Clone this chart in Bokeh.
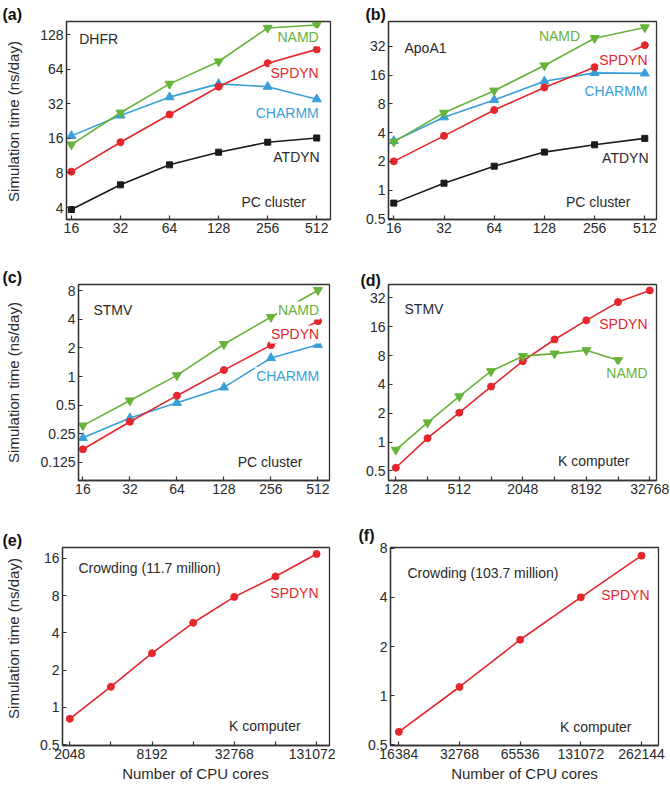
import math
from bokeh.plotting import figure
from bokeh.models import Range1d, FixedTicker, CustomJSTickFormatter, Label
from bokeh.layouts import column, row
from bokeh.embed import file_html
from bokeh.resources import INLINE

# ---------------- data ----------------
cores_pc = [16, 32, 64, 128, 256, 512]
dhfr_namd = [14.1, 26.7, 47.6, 74.5, 146, 155]
dhfr_spdyn = [8.2, 14.8, 25.8, 45, 72, 95]
dhfr_charmm = [16.8, 25.3, 36.5, 47.6, 45, 35]
dhfr_atdyn = [3.84, 6.3, 9.4, 12.1, 14.8, 16.1]

apoa1_namd = [3.2, 6.45, 11.0, 20.2, 39, 50.6]
apoa1_spdyn = [2.0, 3.7, 6.9, 11.9, 19.4, 33]
apoa1_charmm = [3.27, 5.8, 8.8, 13.8, 16.9, 16.7]
apoa1_atdyn = [0.73, 1.18, 1.78, 2.5, 2.98, 3.48]

stmv_pc_namd = [0.305, 0.56, 1.03, 2.19, 4.23, 8.1]
stmv_pc_spdyn = [0.172, 0.335, 0.63, 1.17, 2.14, 3.82]
stmv_pc_charmm = [0.227, 0.366, 0.53, 0.77, 1.57, 2.16]

cores_k_stmv = [128, 256, 512, 1024, 2048, 4096, 8192, 16384, 32768]
stmv_k_spdyn = [0.54, 1.1, 2.03, 3.8, 7.0, 11.8, 18.7, 29, 38.4]
cores_k_stmv_namd = [128, 256, 512, 1024, 2048, 4096, 8192, 16384]
stmv_k_namd = [0.83, 1.6, 3.0, 5.5, 7.9, 8.4, 9.1, 7.15]

cores_crowd1 = [2048, 4096, 8192, 16384, 32768, 65536, 131072]
crowd1_spdyn = [0.81, 1.47, 2.74, 4.82, 7.8, 11.4, 17.3]
cores_crowd2 = [16384, 32768, 65536, 131072, 262144]
crowd2_spdyn = [0.6, 1.13, 2.2, 4.0, 7.2]

ticks_pc = [16, 32, 64, 128, 256, 512]
ticks_k_stmv = [128, 512, 2048, 8192, 32768]
minor_k_stmv = [256, 1024, 4096, 16384]
ticks_crowd1 = [2048, 8192, 32768, 131072]
minor_crowd1 = [4096, 16384, 65536]
ticks_crowd2 = [16384, 32768, 65536, 131072, 262144]

yt_a = [4, 8, 16, 32, 64, 128]
yt_b = [0.5, 1, 2, 4, 8, 16, 32]
yt_c = [0.125, 0.25, 0.5, 1, 2, 4, 8]
yt_d = [0.5, 1, 2, 4, 8, 16, 32]
yt_e = [0.5, 1, 2, 4, 8, 16]
yt_f = [0.5, 1, 2, 4, 8]

# ---------------- styles ----------------
GREEN = "#66b33a"
RED = "#e5262b"
BLUE = "#3a9fd8"
BLACK = "#1a1a1a"
TXT = "#2a2a2a"
FONT = "Liberation Sans"


class Panel:
    def __init__(self, fig_box, frame_box, xanch, yanch, xticks, yticks, xminor=None):
        fx, fy, fw, fh = fig_box
        l, t, r, b = frame_box
        self.fx, self.fy = fx, fy
        (xv1, xp1), (xv2, xp2) = xanch
        (yv1, yp1), (yv2, yp2) = yanch
        self.xs = (math.log2(xv2) - math.log2(xv1)) / (xp2 - xp1)
        self.xo = math.log2(xv1) - xp1 * self.xs
        self.ys = (math.log2(yv2) - math.log2(yv1)) / (yp2 - yp1)
        self.yo = math.log2(yv1) - yp1 * self.ys
        xr = Range1d(2 ** (self.xo + l * self.xs), 2 ** (self.xo + r * self.xs))
        yr = Range1d(2 ** (self.yo + b * self.ys), 2 ** (self.yo + t * self.ys))
        p = figure(width=fw, height=fh, x_axis_type="log", y_axis_type="log",
                   x_range=xr, y_range=yr,
                   min_border_left=l - fx, min_border_right=fx + fw - r,
                   min_border_top=t - fy, min_border_bottom=fy + fh - b,
                   output_backend="svg", toolbar_location=None)
        p.grid.visible = False
        p.outline_line_color = "#333333"
        p.outline_line_width = 1.3
        p.background_fill_color = "white"
        p.border_fill_color = "white"
        for ax, tk, mn in ((p.xaxis, xticks, xminor), (p.yaxis, yticks, None)):
            ax.ticker = FixedTicker(ticks=tk, minor_ticks=mn or [])
            ax.formatter = CustomJSTickFormatter(code="return String(tick)")
            ax.axis_line_color = "#333333"
            ax.axis_line_width = 1.3
            ax.major_tick_in = 4
            ax.major_tick_out = 0
            ax.minor_tick_in = 4
            ax.minor_tick_out = 0
            ax.major_tick_line_color = "#333333"
            ax.minor_tick_line_color = "#333333"
            ax.major_tick_line_width = 1.2
            ax.minor_tick_line_width = 1.2
            ax.major_label_text_font = FONT
            ax.major_label_text_font_size = "14px"
            ax.major_label_text_color = TXT
        p.xaxis.major_label_standoff = 3
        p.yaxis.major_label_standoff = 3
        self.p = p

    def xy(self, px, py):
        return 2 ** (self.xo + px * self.xs), 2 ** (self.yo + py * self.ys)

    def series(self, x, y, color, marker, size):
        self.p.line(x, y, line_color=color, line_width=1.6)
        self.p.scatter(x, y, marker=marker, size=size, fill_color=color, line_color=color)

    def text(self, px, py, s, color=TXT, align="left", bg=None):
        x, y = self.xy(px, py)
        lab = Label(x=x, y=y, text=s, text_color=color, text_align=align,
                    text_baseline="middle", text_font=FONT, text_font_size="14px")
        if bg:
            lab.background_fill_color = bg
            lab.padding = 1
        self.p.add_layout(lab)

    def outer(self, px, py, s, side, size="15px", bold=False, align="center",
              baseline="middle", angle=0.0, color=TXT):
        lab = Label(x=px - self.fx, y=py - self.fy, x_units="canvas", y_units="canvas",
                    text=s, text_color=color, text_align=align, text_baseline=baseline,
                    text_font=FONT, text_font_size=size,
                    text_font_style="bold" if bold else "normal", angle=angle)
        self.p.add_layout(lab, side)


# ---------------- panels (page coordinates) ----------------
A = Panel((0, 0, 335, 263), (61, 21, 330, 219), ((16, 66), (512, 316)),
          ((128, 34), (4, 207)), ticks_pc, yt_a)
A.series(cores_pc, dhfr_atdyn, BLACK, "square", 6)
A.series(cores_pc, dhfr_charmm, BLUE, "triangle", 9)
A.series(cores_pc, dhfr_spdyn, RED, "circle", 7)
A.series(cores_pc, dhfr_namd, GREEN, "inverted_triangle", 9)
A.text(74, 38, "DHFR")
A.text(319, 36.7, "NAMD", GREEN, "right", bg="white")
A.text(319, 72.7, "SPDYN", RED, "right", bg="white")
A.text(319, 112.3, "CHARMM", BLUE, "right", bg="white")
A.text(319, 156, "ATDYN", TXT, "right")
A.text(305, 201.7, "PC cluster", TXT, "right")
A.outer(2, 5, "(a)", "left", "16px", True, "left", "top", color="#111111")
A.outer(12.5, 121, "Simulation time (ns/day)", "left", angle=math.pi / 2)

B = Panel((335, 0, 335, 263), (388, 18, 656, 219), ((16, 393.3), (512, 644.3)),
          ((32, 43.3), (0.5, 218.3)), ticks_pc, yt_b)
B.series(cores_pc, apoa1_atdyn, BLACK, "square", 6)
B.series(cores_pc, apoa1_charmm, BLUE, "triangle", 9)
B.series(cores_pc, apoa1_spdyn, RED, "circle", 7)
B.series(cores_pc, apoa1_namd, GREEN, "inverted_triangle", 9)
B.text(404, 45, "ApoA1")
B.text(559, 32.3, "NAMD", GREEN, "center", bg="white")
B.text(648, 56.7, "SPDYN", RED, "right", bg="white")
B.text(648, 88.3, "CHARMM", BLUE, "right", bg="white")
B.text(648, 156.7, "ATDYN", TXT, "right")
B.text(630, 201.7, "PC cluster", TXT, "right")
B.outer(365, 5, "(b)", "left", "16px", True, "left", "top", color="#111111")

C = Panel((0, 263, 335, 263), (61, 284, 329, 483), ((16, 65.7), (512, 316.7)),
          ((8, 290.3), (0.125, 464.7)), ticks_pc, yt_c)
C.series(cores_pc, stmv_pc_charmm, BLUE, "triangle", 9)
C.series(cores_pc, stmv_pc_spdyn, RED, "circle", 7)
C.series(cores_pc, stmv_pc_namd, GREEN, "inverted_triangle", 9)
C.text(77, 309.7, "STMV")
C.text(319, 310.3, "NAMD", GREEN, "right", bg="white")
C.text(319, 334.7, "SPDYN", RED, "right", bg="white")
C.text(319, 377, "CHARMM", BLUE, "right", bg="white")
C.text(300, 464, "PC cluster", TXT, "right")
C.outer(2, 268, "(c)", "left", "16px", True, "left", "top", color="#111111")
C.outer(12.5, 382, "Simulation time (ns/day)", "left", angle=math.pi / 2)

D = Panel((335, 263, 335, 263), (388, 281, 656, 480), ((128, 395.3), (32768, 649.3)),
          ((32, 294.7), (0.5, 470.3)), ticks_k_stmv, yt_d, minor_k_stmv)
D.series(cores_k_stmv, stmv_k_spdyn, RED, "circle", 7)
D.series(cores_k_stmv_namd, stmv_k_namd, GREEN, "inverted_triangle", 9)
D.text(404, 305.7, "STMV")
D.text(648, 321.3, "SPDYN", RED, "right", bg="white")
D.text(648, 371.3, "NAMD", GREEN, "right", bg="white")
D.text(629, 460.7, "K computer", TXT, "right")
D.outer(360, 271, "(d)", "left", "16px", True, "left", "top", color="#111111")

E = Panel((0, 526, 335, 263), (61, 547, 329, 745), ((2048, 68.3), (131072, 316)),
          ((16, 557.7), (0.5, 744.3)), ticks_crowd1, yt_e, minor_crowd1)
E.series(cores_crowd1, crowd1_spdyn, RED, "circle", 7)
E.text(77, 567, "Crowding (11.7 million)")
E.text(319, 592.7, "SPDYN", RED, "right", bg="white")
E.text(300, 725.3, "K computer", TXT, "right")
E.outer(2, 531, "(e)", "left", "16px", True, "left", "top", color="#111111")
E.outer(12.5, 638, "Simulation time (ns/day)", "left", angle=math.pi / 2)
E.outer(195, 772.5, "Number of CPU cores", "below")

F = Panel((335, 526, 335, 263), (390, 547, 658, 745), ((16384, 398.3), (262144, 641)),
          ((8, 547.7), (0.5, 744.3)), ticks_crowd2, yt_f)
F.series(cores_crowd2, crowd2_spdyn, RED, "circle", 7)
F.text(407, 572, "Crowding (103.7 million)")
F.text(650, 594.3, "SPDYN", RED, "right", bg="white")
F.text(631, 726, "K computer", TXT, "right")
F.outer(358, 526, "(f)", "left", "16px", True, "left", "top", color="#111111")
F.outer(524, 772.5, "Number of CPU cores", "below")

layout = column(row(A.p, B.p), row(C.p, D.p), row(E.p, F.p))
open("out.html", "w").write(file_html(layout, INLINE))
